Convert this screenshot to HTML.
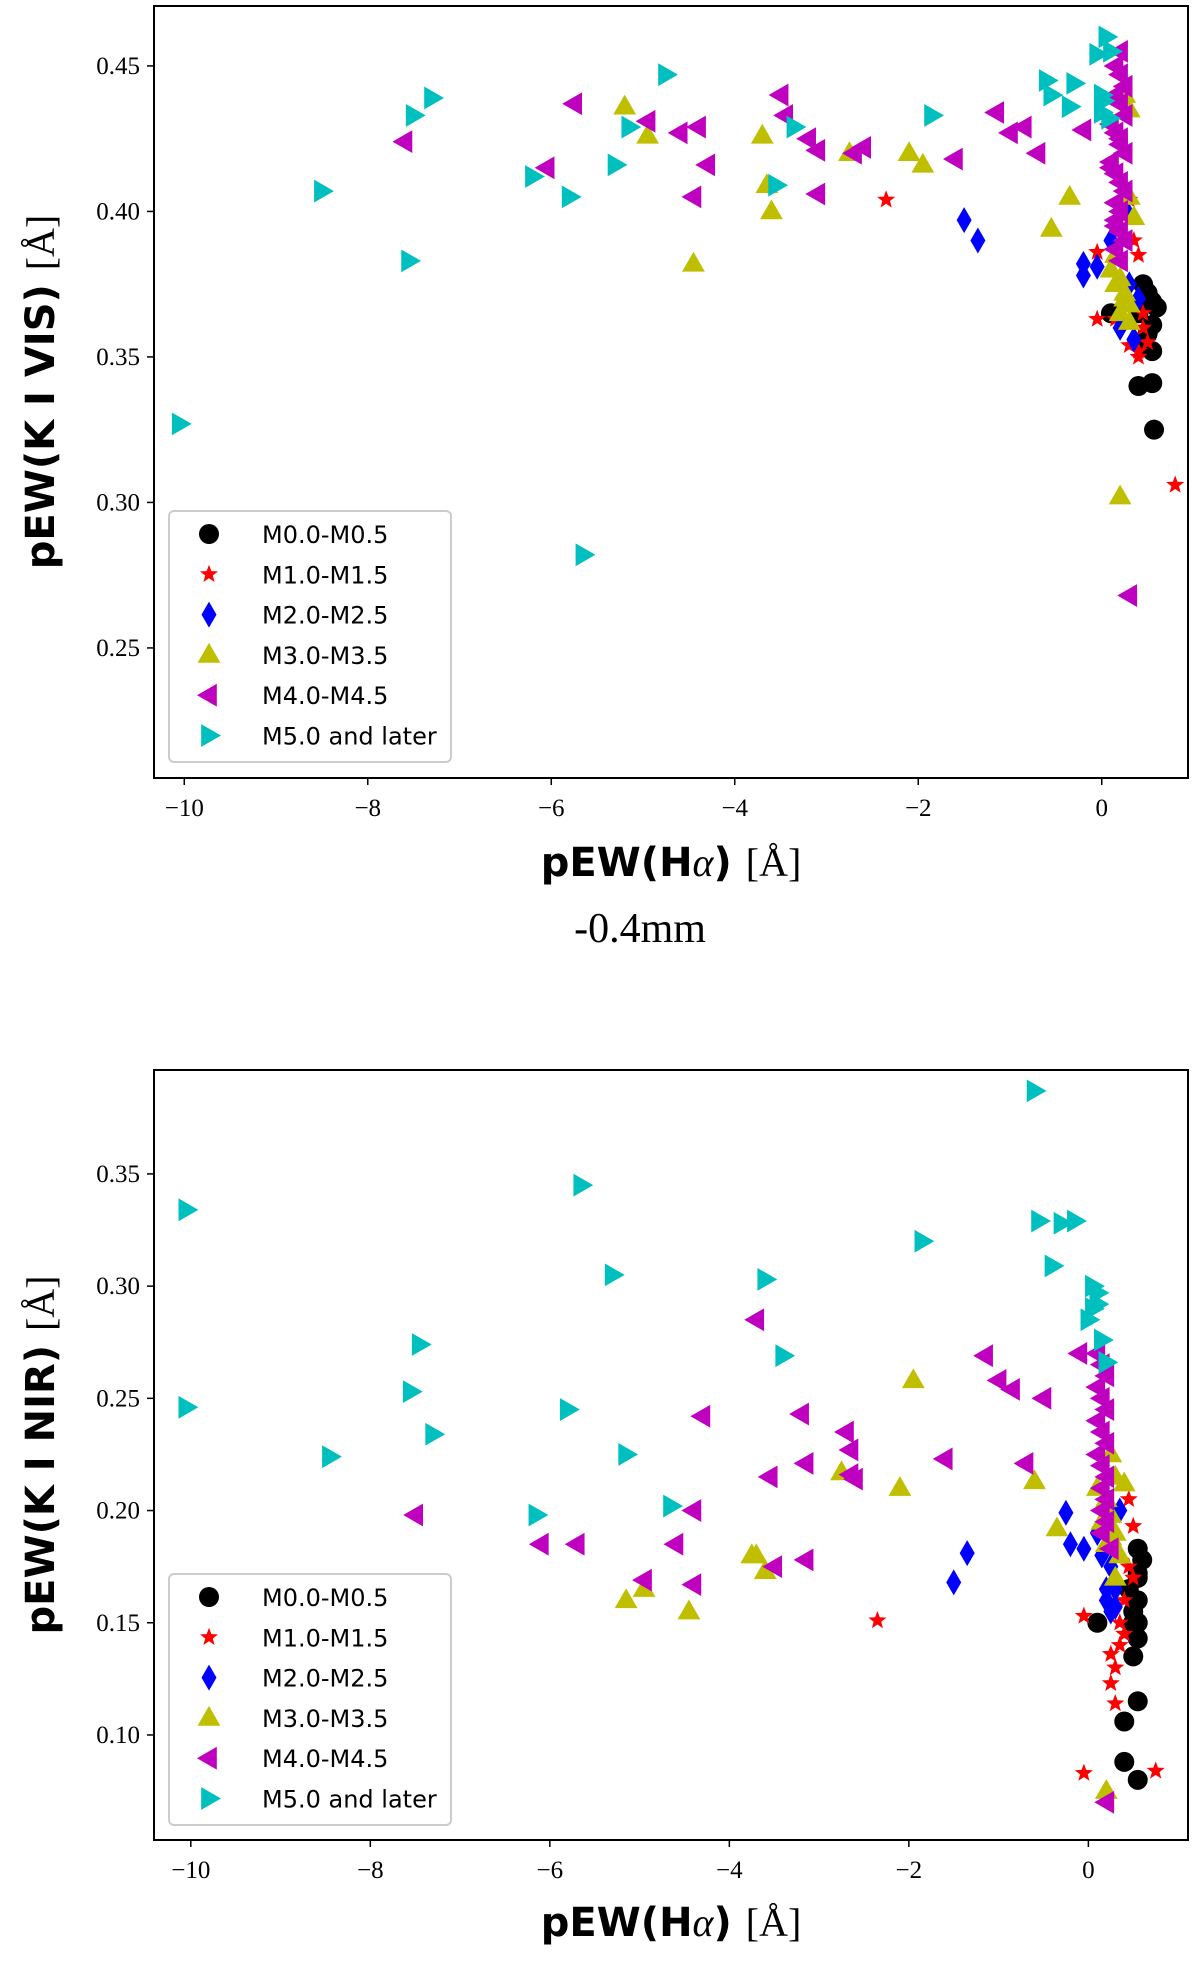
<!DOCTYPE html>
<html><head><meta charset="utf-8"><style>
html,body{margin:0;padding:0;background:#fff;}
svg{display:block;}
.tk{font-family:"Liberation Serif",serif;font-size:25px;fill:#000;}
.lab{font-family:"DejaVu Sans","Liberation Sans",sans-serif;font-weight:bold;font-size:40px;fill:#000;}
.leg{font-family:"DejaVu Sans","Liberation Sans",sans-serif;font-size:24px;fill:#000;}
</style></head><body>
<svg id="fig" width="1200" height="1962" viewBox="0 0 1200 1962" xmlns="http://www.w3.org/2000/svg">
<text x="640" y="942" text-anchor="middle" style="font-family:'Liberation Serif',serif;font-size:42px;">-0.4mm</text>
</svg>
<script>
// ---- top panel data (pEW(Halpha), pEW(K I VIS)) ----
const topM0x=[0.1,0.45,0.5,0.55,0.6,0.55,0.5,0.55,0.4,0.55,0.57,0.45,0.4,0.45];
const topM0y=[0.365,0.375,0.372,0.369,0.367,0.361,0.358,0.352,0.34,0.341,0.325,0.354,0.365,0.37];
const topM1x=[-2.35,-0.05,-0.05,0.15,0.35,0.4,0.3,0.4,0.5,0.45,0.8,0.3,0.45,0.4];
const topM1y=[0.404,0.363,0.386,0.363,0.39,0.385,0.354,0.352,0.355,0.36,0.306,0.404,0.365,0.35];
const topM2x=[-1.5,-1.35,-0.2,-0.2,-0.05,0.1,0.3,0.35,0.4,0.25,0.2];
const topM2y=[0.397,0.39,0.382,0.378,0.381,0.39,0.375,0.356,0.37,0.401,0.36];
const topM3x=[-5.2,-4.95,-4.45,-3.7,-3.65,-3.6,-2.75,-2.1,-1.95,-0.55,-0.35,0.2,0.1,0.2,0.25,0.3,0.2,0.3,0.15,0.25,0.3,0.35,0.3,0.15,0.25];
const topM3y=[0.436,0.426,0.382,0.426,0.409,0.4,0.42,0.42,0.416,0.394,0.405,0.302,0.38,0.377,0.372,0.368,0.365,0.362,0.385,0.44,0.435,0.398,0.405,0.375,0.37];
const topM4x=[-7.6,-6.05,-5.75,-4.95,-4.6,-4.4,-4.45,-4.3,-3.5,-3.45,-3.2,-3.1,-3.1,-2.7,-2.6,-1.6,-1.15,-1.0,-0.85,-0.7,-0.2,0.3,0.2,0.15,0.2,0.25,0.15,0.2,0.25,0.1,0.15,0.2,0.25,0.1,0.15,0.2,0.25,0.15,0.2,0.15,0.2,0.25,0.15,0.2,0.1,0.2,0.15];
const topM4y=[0.424,0.415,0.437,0.431,0.427,0.429,0.405,0.416,0.44,0.433,0.425,0.421,0.406,0.42,0.422,0.418,0.434,0.427,0.429,0.42,0.428,0.268,0.455,0.45,0.447,0.443,0.44,0.437,0.433,0.43,0.427,0.423,0.42,0.417,0.413,0.41,0.407,0.403,0.4,0.397,0.393,0.39,0.387,0.383,0.415,0.425,0.395];
const topM5x=[-10.05,-8.5,-7.55,-7.5,-7.3,-5.65,-5.8,-6.2,-4.75,-5.15,-5.3,-3.55,-3.35,-1.85,-0.6,-0.55,-0.35,-0.3,-0.05,0.05,0.0,0.0,0.1,0.02,0.08];
const topM5y=[0.327,0.407,0.383,0.433,0.439,0.282,0.405,0.412,0.447,0.429,0.416,0.409,0.429,0.433,0.445,0.44,0.436,0.444,0.454,0.46,0.44,0.434,0.455,0.438,0.432];
const topYTicks=[0.25,0.30,0.35,0.40,0.45];
const topYLabels=["0.25","0.30","0.35","0.40","0.45"];
// ---- bottom panel data (pEW(Halpha), pEW(K I NIR)) ----
const botM0x=[0.1,0.55,0.6,0.55,0.55,0.55,0.55,0.5,0.55,0.4,0.4,0.55,0.5,0.45,0.5,0.55];
const botM0y=[0.15,0.183,0.178,0.172,0.16,0.15,0.143,0.135,0.115,0.106,0.088,0.08,0.15,0.165,0.155,0.17];
const botM1x=[-2.35,-0.05,-0.05,0.75,0.3,0.25,0.3,0.25,0.35,0.4,0.5,0.45,0.5,0.35,0.4,0.45];
const botM1y=[0.151,0.153,0.083,0.084,0.114,0.123,0.13,0.136,0.14,0.145,0.193,0.205,0.17,0.15,0.16,0.175];
const botM2x=[-1.5,-1.35,-0.25,-0.2,-0.05,0.1,0.2,0.25,0.3,0.35,0.15,0.3,0.2,0.25];
const botM2y=[0.168,0.181,0.199,0.185,0.183,0.19,0.16,0.155,0.165,0.2,0.18,0.157,0.165,0.175];
const botM3x=[-5.15,-4.95,-4.45,-3.75,-3.7,-3.6,-2.75,-2.1,-1.95,-0.6,-0.35,0.2,0.25,0.3,0.2,0.25,0.3,0.2,0.35,0.3,0.1,0.4,0.15,0.25];
const botM3y=[0.16,0.165,0.155,0.18,0.18,0.173,0.217,0.21,0.258,0.213,0.192,0.075,0.225,0.215,0.205,0.198,0.19,0.185,0.18,0.17,0.21,0.212,0.195,0.188];
const botM4x=[-7.5,-6.1,-5.7,-4.95,-4.6,-4.4,-4.4,-4.3,-3.7,-3.55,-3.5,-3.2,-3.15,-3.15,-2.7,-2.65,-2.65,-2.6,-1.6,-1.15,-1.0,-0.85,-0.7,-0.5,-0.1,0.2,0.1,0.15,0.2,0.1,0.15,0.2,0.1,0.15,0.2,0.1,0.15,0.2,0.15,0.2,0.15,0.2,0.25,0.15];
const botM4y=[0.198,0.185,0.185,0.169,0.185,0.2,0.167,0.242,0.285,0.215,0.175,0.243,0.221,0.178,0.235,0.227,0.216,0.214,0.223,0.269,0.258,0.254,0.221,0.25,0.27,0.07,0.27,0.265,0.26,0.255,0.25,0.245,0.24,0.235,0.23,0.225,0.22,0.215,0.21,0.205,0.2,0.195,0.183,0.19];
const botM5x=[-10.05,-10.05,-8.45,-7.55,-7.45,-7.3,-6.15,-5.8,-5.65,-5.3,-5.15,-4.65,-3.6,-3.4,-1.85,-0.6,-0.55,-0.3,-0.15,-0.4,0.05,0.1,0.05,0.0,0.1,0.15,0.2];
const botM5y=[0.334,0.246,0.224,0.253,0.274,0.234,0.198,0.245,0.345,0.305,0.225,0.202,0.303,0.269,0.32,0.387,0.329,0.328,0.329,0.309,0.3,0.297,0.29,0.285,0.292,0.276,0.266];
const botYTicks=[0.10,0.15,0.20,0.25,0.30,0.35];
const botYLabels=["0.10","0.15","0.20","0.25","0.30","0.35"];
const xTicks=[-10,-8,-6,-4,-2,0];
const xLabels=["\u221210","\u22128","\u22126","\u22124","\u22122","0"];
const legendLabels=["M0.0-M0.5","M1.0-M1.5","M2.0-M2.5","M3.0-M3.5","M4.0-M4.5","M5.0 and later"];

const NS="http://www.w3.org/2000/svg";
const fig=document.getElementById('fig');
function mk(tag,attrs,parent){const e=document.createElementNS(NS,tag);for(const k in attrs)e.setAttribute(k,attrs[k]);(parent||fig).appendChild(e);return e;}
const colors=['#000000','#ff0000','#0000ff','#bfbf00','#bf00bf','#00bfbf'];
const kinds=['circle','star','diamond','up','left','right'];
function markerPath(kind,cx,cy){
  if(kind==='star'){let p=[];for(let i=0;i<10;i++){const r=i%2?4:9.5;const a=-Math.PI/2+i*Math.PI/5;p.push((cx+r*Math.cos(a)).toFixed(1)+','+(cy+r*Math.sin(a)).toFixed(1));}return 'M'+p.join('L')+'Z';}
  if(kind==='diamond')return `M${cx},${cy-13}L${cx+7.5},${cy}L${cx},${cy+13}L${cx-7.5},${cy}Z`;
  const s=12;
  if(kind==='up')return `M${cx},${cy-s}L${cx+s*0.95},${cy+s*0.65}L${cx-s*0.95},${cy+s*0.65}Z`;
  if(kind==='left')return `M${cx-s},${cy}L${cx+s*0.65},${cy-s*0.95}L${cx+s*0.65},${cy+s*0.95}Z`;
  return `M${cx+s},${cy}L${cx-s*0.65},${cy-s*0.95}L${cx-s*0.65},${cy+s*0.95}Z`;
}
function drawMarker(g,k,cx,cy){
  if(kinds[k]==='circle'){return mk('circle',{cx:cx,cy:cy,r:10,fill:colors[k]},g);}
  return mk('path',{d:markerPath(kinds[k],cx,cy),fill:colors[k]},g);
}
function panel(cfg){
  const L=154,R=1188,T=cfg.top,B=cfg.bottom;
  const sx=v=>L+(v-cfg.xmin)/(cfg.xmax-cfg.xmin)*(R-L);
  const sy=v=>B-(v-cfg.ymin)/(cfg.ymax-cfg.ymin)*(B-T);
  const g=mk('g',{});
  
  
  cfg.series.forEach((s,k)=>{
    const sg=mk('g',{},g);
    
    
    for(let i=0;i<s[0].length;i++){
      const m=drawMarker(sg,k,sx(s[0][i]),sy(s[1][i]));
      
      
    }
  });
  const frame=mk('rect',{x:L,y:T,width:R-L,height:B-T,fill:'none',stroke:'#000','stroke-width':2},g);
  
  
  xTicks.forEach((v,i)=>{
    const x=sx(v);
    mk('line',{x1:x,x2:x,y1:B,y2:B+7,stroke:'#000','stroke-width':1.5},g);
    const t=mk('text',{x:x,y:B+38,'text-anchor':'middle',class:'tk'},g);
    t.textContent=xLabels[i];
    
    
  });
  cfg.yTicks.forEach((v,i)=>{
    const y=sy(v);
    mk('line',{x1:L-7,x2:L,y1:y,y2:y,stroke:'#000','stroke-width':1.5},g);
    const t=mk('text',{x:L-14,y:y+8,'text-anchor':'end',class:'tk'},g);
    t.textContent=cfg.yLabels[i];
    
    
  });
  const xl=mk('text',{x:671,y:cfg.xlabY,'text-anchor':'middle',class:'lab'},g);
  xl.innerHTML='pEW(H<tspan style="font-family:\'Liberation Serif\',serif;font-style:italic;font-weight:normal">α</tspan>) <tspan style="font-family:\'Liberation Serif\',serif;font-weight:normal">[Å]</tspan>';
  
  
  const yc=(T+B)/2;
  const yl=mk('text',{x:0,y:0,'text-anchor':'middle',class:'lab',transform:`translate(54,${yc}) rotate(-90)`},g);
  yl.innerHTML=cfg.ylab+' <tspan style="font-family:\'Liberation Serif\',serif;font-weight:normal">[Å]</tspan>';
  
  
  const lg=mk('g',{},g);
  
  
  mk('rect',{x:169,y:cfg.legTop,width:282,height:251,rx:5,fill:'#fff','fill-opacity':0.8,stroke:'#cccccc','stroke-width':2},lg);
  legendLabels.forEach((lab,k)=>{
    const y=cfg.legTop+23+k*40.3;
    const e=mk('g',{},lg);
    
    
    drawMarker(e,k,209,y);
    const t=mk('text',{x:262,y:y+9,class:'leg'},e);
    t.textContent=lab;
  });
}
panel({name:'top-panel-kvis',top:6,bottom:778,xmin:-10.33,xmax:0.94,ymin:0.2053,ymax:0.4706,
  series:[[topM0x,topM0y],[topM1x,topM1y],[topM2x,topM2y],[topM3x,topM3y],[topM4x,topM4y],[topM5x,topM5y]],
  yTicks:topYTicks,yLabels:topYLabels,xlabY:876,ylab:'pEW(K I VIS)',legTop:511});
panel({name:'bottom-panel-knir',top:1070,bottom:1840,xmin:-10.41,xmax:1.11,ymin:0.0532,ymax:0.3963,
  series:[[botM0x,botM0y],[botM1x,botM1y],[botM2x,botM2y],[botM3x,botM3y],[botM4x,botM4y],[botM5x,botM5y]],
  yTicks:botYTicks,yLabels:botYLabels,xlabY:1936,ylab:'pEW(K I NIR)',legTop:1574});
</script>
</body></html>
